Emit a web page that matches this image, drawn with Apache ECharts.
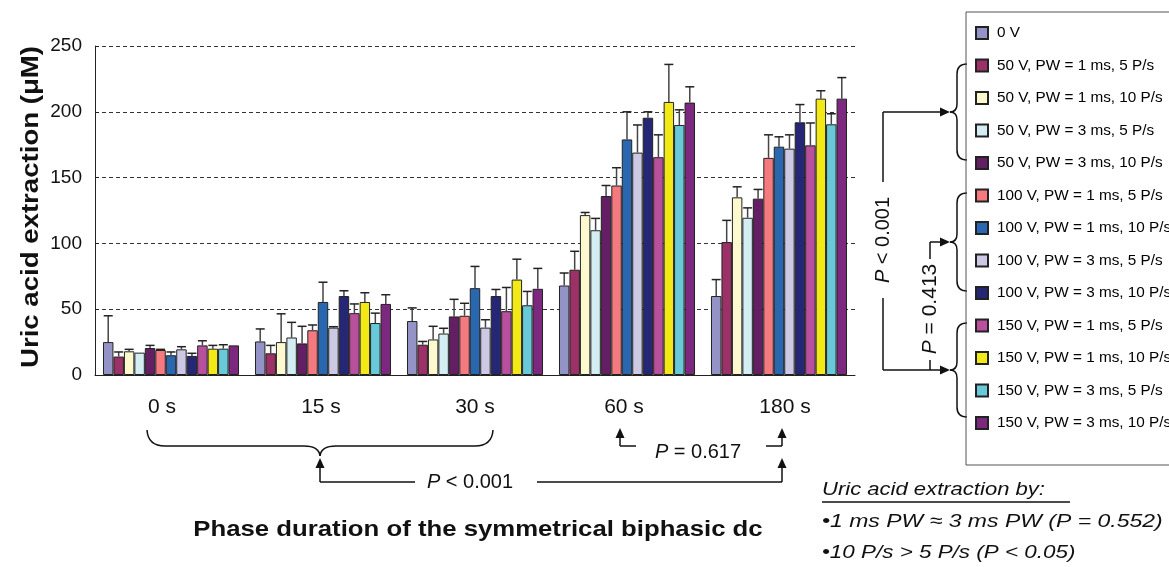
<!DOCTYPE html>
<html><head><meta charset="utf-8">
<script src="https://cdn.jsdelivr.net/npm/echarts@6/dist/echarts.min.js"></script>
<style>html,body{margin:0;padding:0;background:#fff;overflow:hidden}#c{width:1169px;height:567px}</style>
</head><body><div id="c"></div>
<script>
// ---- data ----
const categories = ['0 s', '15 s', '30 s', '60 s', '180 s'];
const yTicks = [0, 50, 100, 150, 200, 250];
const seriesNames = [
  '0 V',
  '50 V, PW = 1 ms, 5 P/s', '50 V, PW = 1 ms, 10 P/s', '50 V, PW = 3 ms, 5 P/s', '50 V, PW = 3 ms, 10 P/s',
  '100 V, PW = 1 ms, 5 P/s', '100 V, PW = 1 ms, 10 P/s', '100 V, PW = 3 ms, 5 P/s', '100 V, PW = 3 ms, 10 P/s',
  '150 V, PW = 1 ms, 5 P/s', '150 V, PW = 1 ms, 10 P/s', '150 V, PW = 3 ms, 5 P/s', '150 V, PW = 3 ms, 10 P/s'
];
const seriesColors = ['#9493c6', '#9b3166', '#fdf9cf', '#d3edf3', '#641e63', '#f47a80', '#2a67b1',
  '#ccc9e4', '#262774', '#b9509e', '#f3e916', '#68c9d8', '#7d287f'];
// mean values per phase duration (order = seriesNames)
const mean0s   = [25, 14, 18, 17, 20.5, 19, 15, 19.5, 14.5, 22.5, 20, 20, 22.5];
const mean15s  = [25.5, 16.5, 25, 28.5, 24, 34, 55.5, 36, 60, 47, 55.5, 39.5, 54];
const mean30s  = [41, 23, 27, 31.5, 44.5, 45, 66, 36, 60, 48.5, 72.5, 53, 65.5];
const mean60s  = [68, 80, 121.5, 110, 136, 144, 179, 169, 195.5, 165.5, 207.5, 190, 207];
const mean180s = [60, 101, 135, 119.5, 134, 165, 173.5, 172, 192, 174.5, 210, 190.5, 210];
// error (upper SD) per phase duration
const err0s   = [20, 3.5, 1.5, 0, 2, 0.5, 2.5, 2, 2, 3.5, 2.5, 3, 0];
const err15s  = [9.5, 6, 21.5, 11.5, 13, 4, 15, 0.7, 4, 7, 7, 7.5, 7];
const err30s  = [10, 2.5, 10, 4, 13, 9.5, 16.5, 6, 5, 18, 15.5, 10.5, 15.5];
const err60s  = [9.5, 14, 2, 9, 8, 13.5, 21, 21, 4.5, 17, 28.5, 11.5, 12];
const err180s = [12.5, 16.5, 8, 7.5, 7, 17.5, 7.5, 10.5, 13.5, 17, 6, 8, 16];

// ---- build ----
const means = [mean0s, mean15s, mean30s, mean60s, mean180s];
const errs = [err0s, err15s, err30s, err60s, err180s];
const N = seriesNames.length;
const CAT_GAP = 0.105;
const FONT = '"Liberation Sans", Arial, Helvetica, sans-serif';
const INK = '#111';
// small horizontal nudges of category labels (label layout only)
const labelPad = [[0, 18, 0, 0], [0, 4, 0, 0], [0, 0, 0, 0], [0, 6, 0, 0], [0, 0, 0, 12]];

const chart = echarts.init(document.getElementById('c'), null, {renderer: 'canvas'});

const barSeries = seriesNames.map((name, s) => ({
  type: 'bar', name, data: means.map(g => g[s]),
  barGap: '0%', barCategoryGap: (CAT_GAP * 100) + '%',
  itemStyle: {color: seriesColors[s], borderColor: '#222', borderWidth: 1},
  silent: true, animation: false
}));

const errData = [];
means.forEach((g, c) => g.forEach((v, s) => errData.push([c, v, errs[c][s], s])));

const errSeries = {
  type: 'custom', name: 'err', data: errData, z: 10, silent: true, animation: false,
  encode: {x: 0, y: 1},
  renderItem(params, api) {
    const c = api.value(0), v = api.value(1), e = api.value(2), s = api.value(3);
    if (e <= 0) return null;
    const band = api.size([1, 0])[0];
    const bw = band * (1 - CAT_GAP) / N;
    const base = api.coord([c, v]);
    const top = api.coord([c, v + e]);
    const x = base[0] + (s - (N - 1) / 2) * bw;
    return {type: 'group', children: [
      {type: 'line', shape: {x1: x, y1: base[1], x2: x, y2: top[1]}, style: {stroke: '#444', lineWidth: 1.5}},
      {type: 'line', shape: {x1: x - 4.5, y1: top[1], x2: x + 4.5, y2: top[1]}, style: {stroke: '#222', lineWidth: 1.5}}
    ]};
  }
};

// ---- annotation helpers (pixel-space graphics) ----
const LW = 1.5;
function ln(x1, y1, x2, y2) { return {type: 'line', silent: true, shape: {x1, y1, x2, y2}, style: {stroke: INK, lineWidth: LW}}; }
function qc(x1, y1, cx, cy, x2, y2) { return {type: 'bezierCurve', silent: true, shape: {x1, y1, cpx1: cx, cpy1: cy, x2, y2}, style: {stroke: INK, lineWidth: LW, fill: 'none'}}; }
function arrowUp(x, y) { return {type: 'polygon', silent: true, shape: {points: [[x, y], [x - 4.5, y + 10], [x + 4.5, y + 10]]}, style: {fill: INK}}; }
function arrowRight(x, y) { return {type: 'polygon', silent: true, shape: {points: [[x, y], [x - 10, y - 4.5], [x - 10, y + 4.5]]}, style: {fill: INK}}; }
function hBrace(xL, xR, yEnd, yLine, xt, yTip) {
  const r = 18, r2 = 16;
  return [
    qc(xL, yEnd, xL + 1, yLine, xL + r, yLine),
    ln(xL + r, yLine, xt - r2, yLine),
    qc(xt - r2, yLine, xt - 1, yLine, xt, yTip),
    qc(xt, yTip, xt + 1, yLine, xt + r2, yLine),
    ln(xt + r2, yLine, xR - r, yLine),
    qc(xR - r, yLine, xR - 1, yLine, xR, yEnd)
  ];
}
function vBrace(xE, xV, xT, y1, y2, ty) {
  const r = 10, r2 = 8;
  return [
    qc(xE, y1, xV, y1, xV, y1 + r),
    ln(xV, y1 + r, xV, ty - r2),
    qc(xV, ty - r2, xV, ty, xT, ty),
    qc(xT, ty, xV, ty, xV, ty + r2),
    ln(xV, ty + r2, xV, y2 - r),
    qc(xV, y2 - r, xV, y2, xE, y2)
  ];
}
function txt(x, y, text, o) {
  o = o || {};
  return {type: 'text', silent: true, x, y, rotation: o.rot || 0, scaleX: o.sx || 1, scaleY: 1,
    style: {text, fill: INK, fontFamily: FONT, fontSize: o.size || 20, fontWeight: o.weight || 'normal',
      fontStyle: o.style || 'normal', align: o.align || 'center', verticalAlign: 'middle',
      textAlign: o.align || 'center', textVerticalAlign: 'middle',
      rich: {i: {fontStyle: 'italic', fontSize: o.size || 20, fontFamily: FONT, fill: INK}}}};
}

const graphics = [
  // axis titles
  txt(32, 207, 'Uric acid extraction (\u03bcM)', {rot: Math.PI / 2, size: 23, weight: 'bold', sx: 1.2}),
  txt(478, 530, 'Phase duration of the symmetrical biphasic dc', {size: 22, weight: 'bold', sx: 1.17}),
  // bottom brace + P < 0.001
  ...hBrace(147, 493, 430, 446, 320, 456),
  arrowUp(320, 458), ln(320, 468, 320, 482), ln(320, 482, 415, 482),
  txt(470, 482, '{i|P} < 0.001', {size: 20}),
  ln(537, 482, 782, 482), ln(782, 482, 782, 468), arrowUp(782, 458),
  // P = 0.617 bracket
  arrowUp(620, 428), ln(620, 438, 620, 446), ln(620, 446, 636, 446),
  txt(698, 452, '{i|P} = 0.617', {size: 20}),
  ln(766, 446, 782, 446), ln(782, 446, 782, 438), arrowUp(782, 428),
  // right side braces
  ...vBrace(967, 957, 950, 64, 160, 112),
  ...vBrace(967, 957, 950, 193, 291, 242),
  ...vBrace(967, 957, 950, 323, 417, 370),
  // P < 0.001 (right)
  arrowRight(950, 112), ln(883, 112, 940, 112), ln(883, 112, 883, 182),
  txt(883, 240, '{i|P} < 0.001', {rot: Math.PI / 2, size: 20}),
  ln(883, 298, 883, 370), ln(883, 370, 940, 370), arrowRight(950, 370),
  // P = 0.413
  arrowRight(950, 242), ln(930, 242, 940, 242), ln(930, 242, 930, 259),
  txt(930, 309, '{i|P} = 0.413', {rot: Math.PI / 2, size: 21}),
  ln(930, 360, 930, 370),
  // bottom-right notes
  txt(822, 490, 'Uric acid extraction by:', {size: 19, style: 'italic', align: 'left', sx: 1.16}),
  ln(822, 502, 1070, 502),
  txt(822, 522, '\u20221 ms PW \u2248 3 ms PW (P = 0.552)', {size: 19, style: 'italic', align: 'left', sx: 1.21}),
  txt(822, 553, '\u202210 P/s > 5 P/s (P < 0.05)', {size: 19, style: 'italic', align: 'left', sx: 1.18})
];

const option = {
  backgroundColor: '#fff',
  animation: false,
  textStyle: {fontFamily: FONT},
  grid: {left: 95, right: 314, top: 46, bottom: 192, containLabel: false},
  legend: {
    data: seriesNames, orient: 'vertical', left: 966, top: 12,
    padding: [13, 90, 34, 9], itemWidth: 12, itemHeight: 12, itemGap: 16.5,
    borderColor: '#555', borderWidth: 1, selectedMode: false, icon: 'rect',
    textStyle: {fontFamily: FONT, fontSize: 15.3, color: '#000', lineHeight: 16, padding: [0, 0, 0, 4]}
  },
  xAxis: {
    type: 'category',
    data: categories.map((c, i) => ({value: c, textStyle: {padding: labelPad[i]}})),
    axisLine: {lineStyle: {color: '#222', width: 1}},
    axisTick: {show: false},
    axisLabel: {fontSize: 21, color: INK, margin: 22, fontFamily: FONT}
  },
  yAxis: {
    type: 'value', min: yTicks[0], max: yTicks[yTicks.length - 1], interval: yTicks[1] - yTicks[0],
    axisLine: {show: true, lineStyle: {color: '#222', width: 1}},
    axisTick: {show: true, inside: true, length: 4, lineStyle: {color: '#222'}},
    axisLabel: {fontSize: 19, color: INK, margin: 13, fontFamily: FONT},
    splitLine: {show: true, lineStyle: {type: [4, 3], color: '#333', width: 1}}
  },
  series: [...barSeries, errSeries],
  graphic: {elements: graphics}
};
chart.setOption(option);
</script>
</body></html>
